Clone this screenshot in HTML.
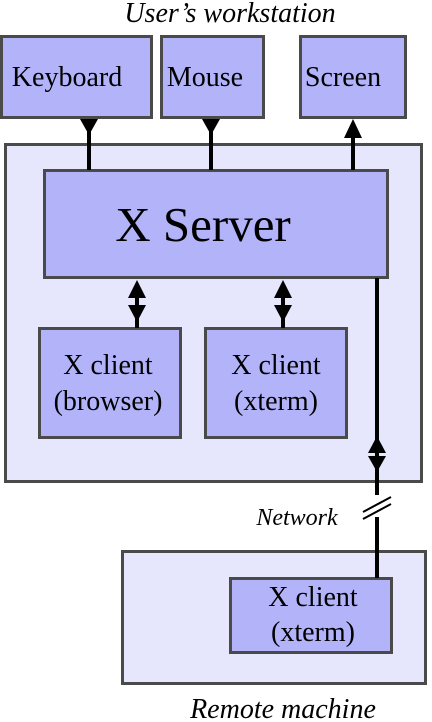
<!DOCTYPE html>
<html><head><style>html,body{margin:0;padding:0;background:#fff;}svg{display:block}</style></head><body>
<svg width="432" height="722" viewBox="0 0 432 722" xmlns="http://www.w3.org/2000/svg" font-family="'Liberation Serif', serif">
<g stroke="#4a4a4a" stroke-width="3">
<rect x="5.5" y="144.5" width="416" height="337" fill="#e6e6fc"/>
<rect x="122.5" y="551.5" width="303" height="132" fill="#e6e6fc"/>
<rect x="1.5" y="36.5" width="150" height="81" fill="#b3b3fa"/>
<rect x="161.5" y="36.5" width="102" height="81" fill="#b3b3fa"/>
<rect x="300.5" y="36.5" width="105" height="81" fill="#b3b3fa"/>
<rect x="44.5" y="170.5" width="343" height="107" fill="#b3b3fa"/>
<rect x="39.5" y="328.5" width="141" height="109" fill="#b3b3fa"/>
<rect x="205.5" y="328.5" width="141" height="109" fill="#b3b3fa"/>
<rect x="230.5" y="578.5" width="161" height="74" fill="#b3b3fa"/>
</g>
<g stroke="#000" stroke-width="4" fill="none">
<line x1="89" y1="119" x2="89" y2="170"/>
<line x1="211" y1="119" x2="211" y2="170"/>
<line x1="353" y1="125" x2="353" y2="170"/>
<line x1="137" y1="285" x2="137" y2="328"/>
<line x1="283" y1="285" x2="283" y2="328"/>
<line x1="377" y1="278" x2="377" y2="495"/>
<line x1="377" y1="517" x2="377" y2="578"/>
<line x1="363" y1="512" x2="391" y2="497" stroke-width="2"/>
<line x1="363" y1="519" x2="391" y2="504" stroke-width="2"/>
</g>
<g fill="#000">
<polygon points="80,119 98,119 89,135"/>
<polygon points="202,119 220,119 211,135"/>
<polygon points="344,138 362,138 353,119"/>
<polygon points="128,298 146,298 137,280"/>
<polygon points="128,305 146,305 137,322"/>
<polygon points="274,298 292,298 283,280"/>
<polygon points="274,305 292,305 283,322"/>
<polygon points="368,453 386,453 377,436"/>
<polygon points="368,456 386,456 377,472"/>
</g>
<g fill="#000" text-anchor="middle">
<text x="230" y="22" font-size="28" font-style="italic">User’s workstation</text>
<text x="67" y="86" font-size="28">Keyboard</text>
<text x="205" y="86" font-size="28">Mouse</text>
<text x="343" y="86" font-size="28">Screen</text>
<text x="203" y="241" font-size="49">X Server</text>
<text x="108" y="374" font-size="28">X client</text>
<text x="108" y="410" font-size="28">(browser)</text>
<text x="276" y="374" font-size="28">X client</text>
<text x="276" y="410" font-size="28">(xterm)</text>
<text x="313" y="606" font-size="28">X client</text>
<text x="313" y="641" font-size="28">(xterm)</text>
<text x="297" y="525" font-size="24" font-style="italic">Network</text>
<text x="283" y="718" font-size="28" font-style="italic">Remote machine</text>
</g>
</svg>
</body></html>
